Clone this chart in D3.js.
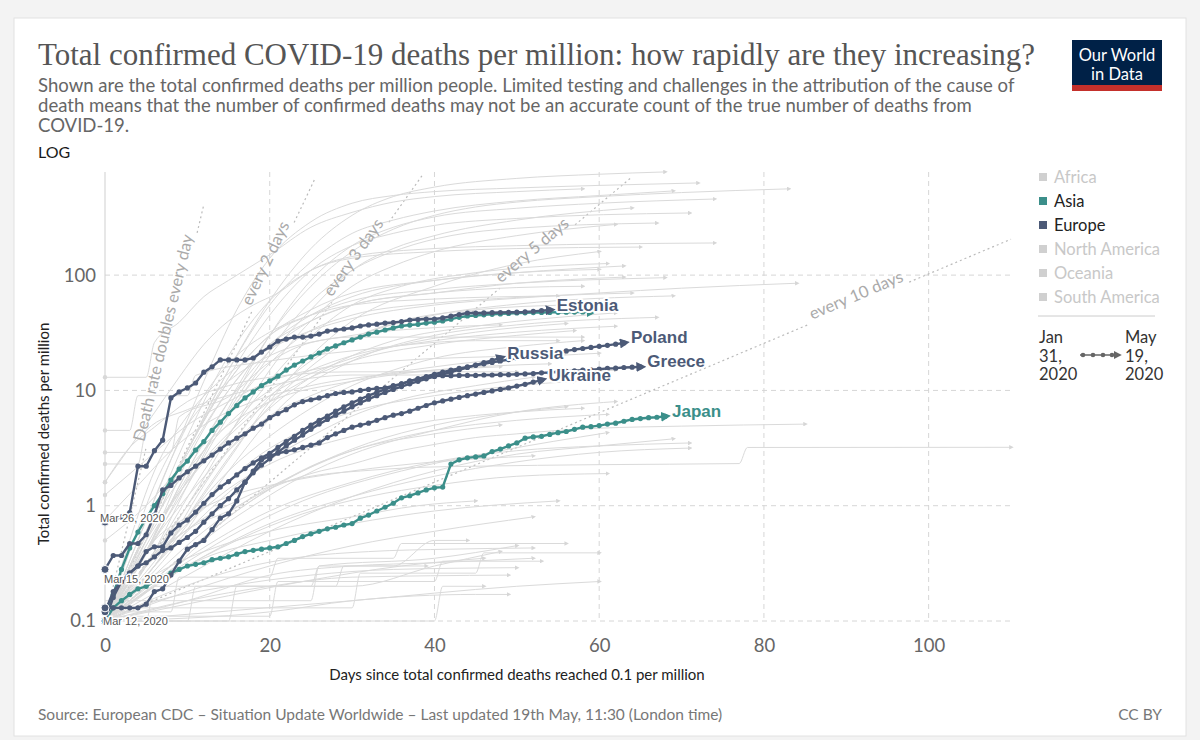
<!DOCTYPE html>
<html><head><meta charset="utf-8">
<script src="https://cdn.jsdelivr.net/npm/d3@7"></script>
<style>
body{margin:0;background:#f3f3f3;}
svg{display:block;font-family:Lato,"Noto Sans",sans-serif;}
</style></head><body>
<svg id="c" width="1200" height="740"></svg>
<script>
// ---------------- DATA ----------------
const xTicks = [0, 20, 40, 60, 80, 100];
const yTicks = [0.1, 1, 10, 100];
const yTickLabels = ["0.1", "1", "10", "100"];
const legendContinents = ["Africa", "Asia", "Europe", "North America", "Oceania", "South America"];
const activeContinents = ["Asia", "Europe"];
const doublingDays = [1, 2, 3, 5, 10];
const doublingLabels = ["Death rate doubles every day", "every 2 days", "every 3 days", "every 5 days", "every 10 days"];
const doublingEnds = [12, 25.5, 38.5, 64, 110];
const doublingLabelCenters = [8.1, 20.4, 31, 52.5, 91.6];

// highlighted countries: daily values, day 0 = first day >= 0.1 deaths per million
const estonia = [0.72,0.75,0.8,0.87,2.2,2.2,3.0,3.7,8.6,9.7,10.5,11.6,14.4,16.0,18.4,18.4,18.4,18.4,19.1,21.5,23.8,26.8,27.9,29.0,29.0,29.6,30.8,32.7,33.4,34.1,34.8,36.2,37.0,37.5,38.4,38.8,39.5,40.8,41.2,41.6,41.6,42.5,44.0,45.5,46.9,46.9,47.0,47.2,47.4,47.6,47.7,48.0,48.5,49.2,49.8];
const turkey = [0.1,0.17,0.28,0.43,0.59,0.78,1.0,1.27,1.67,2.08,2.44,3.04,3.6,4.5,5.3,6.3,7.4,8.6,9.7,11.0,12.1,13.3,15.0,16.6,18.0,19.5,21.1,22.9,24.3,25.9,27.4,29.0,30.8,32.0,33.4,34.8,36.2,36.9,37.4,38.4,39.1,40.0,41.5,43.0,44.2,44.7,45.2,45.7,46.1,46.5,46.9,47.1,47.3,47.4,47.5,47.6,47.7,47.8,47.9,48.0];
const japan = [0.1,0.13,0.15,0.17,0.19,0.2,0.22,0.24,0.26,0.28,0.3,0.31,0.32,0.34,0.35,0.36,0.38,0.4,0.41,0.42,0.43,0.44,0.47,0.5,0.54,0.57,0.6,0.63,0.65,0.68,0.7,0.78,0.83,0.9,0.97,1.05,1.17,1.22,1.29,1.37,1.43,1.45,2.3,2.5,2.6,2.65,2.7,2.95,3.1,3.3,3.5,3.85,3.95,4.0,4.15,4.3,4.4,4.6,4.8,4.85,4.95,5.1,5.2,5.4,5.6,5.7,5.8,5.85,5.95];
const greece = [0.28,0.37,0.37,0.47,0.47,0.56,0.83,1.37,1.5,1.74,1.97,2.2,2.45,2.75,3.1,3.5,3.85,4.2,4.7,5.1,5.8,6.3,6.8,7.5,8.0,8.3,8.6,9.0,9.4,9.6,9.7,10.0,10.2,10.4,10.5,11.0,11.4,12.1,12.6,13.0,13.3,13.4,13.4,13.5,13.5,13.5,13.6,13.6,13.7,13.7,13.8,13.9,14.0,14.2,14.3,14.5,14.6,14.8,15.0,15.1,15.3,15.5,15.6,15.8,15.9,16.0];
const russia = [0.1,0.16,0.22,0.26,0.3,0.32,0.36,0.41,0.43,0.48,0.53,0.6,0.72,0.85,1.0,1.15,1.37,1.6,1.93,2.25,2.55,2.9,3.3,3.7,4.1,4.6,5.1,5.6,6.1,6.6,7.2,7.8,8.4,9.0,9.6,10.2,10.8,11.4,12.0,12.6,13.2,13.8,14.4,15.1,15.8,16.6,17.4,18.2,19.1];
const poland = [0.12,0.18,0.22,0.26,0.3,0.4,0.44,0.44,0.58,0.68,0.75,0.88,1.05,1.25,1.45,1.62,1.85,2.1,2.35,2.6,2.85,3.2,3.6,4.0,4.5,5.0,5.5,6.0,6.6,7.2,7.8,8.4,9.0,9.6,10.2,10.8,11.4,12.0,12.6,13.2,13.8,14.4,15.0,15.5,16.0,16.5,17.0,17.5,18.0,18.5,19.0,19.5,20.0,20.5,21.0,21.5,22.0,22.6,23.1,23.6,24.1,24.6,25.2,25.8];
const ukraine = [0.13,0.13,0.13,0.13,0.13,0.14,0.18,0.19,0.25,0.33,0.42,0.46,0.5,0.62,0.78,0.85,1.1,1.6,2.0,2.5,2.7,2.85,2.95,3.05,3.2,3.35,3.5,3.9,4.2,4.5,4.8,5.0,5.2,5.5,5.8,6.1,6.3,6.6,7.0,7.4,7.8,8.1,8.4,8.7,9.0,9.3,9.6,9.9,10.2,10.5,10.9,11.3,11.8,12.3];

const highlightNames = ["Turkey", "Japan", "Greece", "Russia", "Poland", "Ukraine", "Estonia"];
const highlightContinents = ["Asia", "Asia", "Europe", "Europe", "Europe", "Europe", "Europe"];
const highlightSeries = [turkey, japan, greece, russia, poland, ukraine, estonia];
const highlightLabelled = [false, true, true, true, true, true, true];
const startDateLabels = ["Mar 26, 2020", "Mar 15, 2020", "Mar 12, 2020"];
const startDateCountries = ["Estonia", "Greece", "Japan"];

// other countries (grey), read as [day, deaths per million]
const otherCountries = [
 [[0,0.1],[5,0.6],[10,3],[15,15],[20,60],[25,170],[30,330],[35,480],[40,580],[50,690],[60,750],[68,785]],
 [[0,0.1],[4,0.5],[8,2.5],[12,12],[16,50],[20,140],[25,290],[30,420],[35,490],[40,530],[50,570],[60,600],[72,630]],
 [[0,0.1],[5,0.4],[10,2],[15,8],[20,30],[25,80],[30,160],[35,250],[40,330],[45,390],[50,430],[60,480],[70,520],[83,560]],
 [[0,0.1],[5,0.5],[10,3],[15,15],[20,55],[25,130],[30,230],[35,300],[40,360],[50,440],[60,490],[69,537]],
 [[0,0.1],[5,0.3],[10,1.5],[15,7],[20,30],[25,90],[30,180],[35,260],[40,320],[50,380],[60,420],[74,457]],
 [[0,0.1],[5,0.4],[10,1.5],[15,6],[20,20],[25,50],[30,110],[35,170],[40,220],[50,300],[64,382]],
 [[0,0.1],[5,0.5],[10,3],[15,13],[20,45],[25,110],[30,180],[35,230],[40,270],[50,310],[71,346]],
 [[0,0.1],[6,0.6],[12,3],[18,14],[24,50],[30,110],[36,170],[42,220],[50,255],[67,283]],
 [[0,0.1],[5,0.6],[10,4],[15,20],[20,60],[25,110],[30,145],[40,170],[50,180],[74,190]],
 [[0,0.1],[5,0.3],[10,1],[15,4],[20,15],[25,40],[30,80],[35,120],[40,160],[50,220],[62,275]],
 [[0,0.1],[8,0.5],[15,2.5],[20,8],[25,20],[30,40],[40,80],[50,125],[60,160]],
 [[0,0.1],[5,0.6],[10,3],[15,12],[20,30],[25,50],[30,70],[40,90],[50,105],[63,120]],
 [[0,0.1],[6,0.4],[12,2],[18,8],[24,25],[30,55],[36,80],[45,105],[61,126]],
 [[0,0.1],[3,0.5],[6,2],[10,6],[15,14],[20,23],[25,33],[30,42],[40,55],[50,63],[60,70],[70,77],[84,85]],
 [[0,0.1],[5,0.6],[10,3],[15,12],[20,30],[25,45],[30,60],[40,75],[50,85],[68,95]],
 [[0,0.1],[5,0.4],[10,2.5],[15,10],[20,25],[25,40],[30,55],[40,70],[50,85],[63,96]],
 [[0,0.1],[6,0.5],[12,3],[18,12],[24,30],[30,45],[40,57],[50,64],[64,70]],
 [[0,0.1],[6,0.3],[12,1.5],[18,6],[24,16],[30,28],[40,45],[50,56],[69,66]],
 [[0,0.1],[8,0.4],[15,2],[22,8],[30,18],[40,30],[50,37],[67,43]],
 [[0,1.6],[3,3.2],[6,6.4],[9,13],[12,25],[15,40],[18,55],[21,70],[25,110],[30,140],[40,160],[50,170],[65,175]],
 [[0,13],[5,13],[6,26],[9,39],[12,65],[15,90],[20,150],[25,260],[30,350],[35,430],[40,480],[50,530],[58,560]],
 [[0,0.1],[5,0.4],[10,2],[15,8],[20,22],[25,40],[30,55],[40,70],[50,78],[58,80]],
 [[0,0.1],[4,0.5],[8,2.5],[12,9],[16,20],[20,32],[25,45],[30,55],[40,62],[55,66]],
 [[0,0.1],[6,0.3],[12,1.3],[18,5],[24,14],[30,28],[36,40],[45,50],[56,55]],
 [[0,0.1],[5,0.3],[10,1],[15,3],[20,7],[25,13],[30,20],[35,27],[45,36],[55,43],[62,47]],
 [[0,0.1],[3,0.4],[6,1.5],[10,5],[15,12],[20,20],[30,30],[40,35],[48,37]],
 [[0,0.1],[5,0.6],[10,2.8],[15,10],[20,25],[25,45],[30,65],[40,90],[50,105],[60,112]],
 [[0,4.5],[3,4.5],[4,9],[10,9],[11,13.5],[20,18],[30,22],[45,27],[55,27]],
 [[0,2.9],[8,2.9],[9,5.9],[15,8.8],[20,17.6],[25,26],[30,29],[40,29],[58,29]],
 [[0,2.3],[4,2.3],[5,4.5],[10,6.8],[20,11],[30,13.6],[45,13.6],[62,15]],
 [[0,1.6],[3,3.2],[6,4.8],[10,8],[15,11],[20,13],[30,14.5],[50,14.5]],
 [[0,1.24],[5,2.5],[10,5],[15,8],[20,12],[25,15],[35,18],[50,20],[56,21]],
 [[0,0.75],[4,1.5],[8,3],[12,5],[18,8],[25,11],[35,14],[48,16]],
 [[0,0.5],[5,1],[10,2.5],[15,5],[20,8],[30,12],[40,15],[54,17]],
 [[0,0.1],[5,0.3],[10,0.8],[15,2],[20,4],[25,7],[30,11],[35,15],[40,19],[50,24],[58,27]],
 [[0,0.1],[5,0.4],[10,1.2],[15,3],[20,6],[25,9],[30,12],[40,16],[50,19],[60,21]],
 [[0,0.1],[6,0.3],[12,1],[18,2.5],[24,4.5],[30,6.5],[40,9],[50,11],[57,12]],
 [[0,0.1],[4,0.3],[8,1],[12,2.5],[16,5],[20,9],[25,14],[30,19],[35,24],[45,32],[56,38]],
 [[0,0.1],[5,0.25],[10,0.6],[15,1.3],[20,2.5],[25,4],[30,6],[35,8],[45,11],[52,13]],
 [[0,0.1],[6,0.2],[12,0.5],[18,1],[24,1.8],[30,2.8],[40,4.5],[50,6.5],[62,8]],
 [[0,0.1],[5,0.2],[10,0.4],[15,0.8],[20,1.4],[25,2.2],[30,3],[40,4.5],[50,5.5],[61,6.2]],
 [[0,0.1],[8,0.3],[16,0.9],[24,2],[32,3.5],[40,5],[50,6.5],[56,7.2]],
 [[0,0.1],[5,0.3],[10,0.7],[15,1.4],[20,2.3],[30,4],[40,5.5],[50,6.5],[58,7]],
 [[0,0.1],[5,0.5],[10,1.6],[15,4],[20,8],[25,13],[30,18],[40,25],[50,30],[57,33]],
 [[0,0.1],[4,0.4],[8,1.3],[12,3],[16,6],[20,10],[25,15],[30,20],[40,27],[50,32],[62,36]],
 [[0,0.1],[6,0.25],[12,0.6],[18,1.2],[24,2],[30,3],[40,4.2],[48,5]],
 [[0,0.1],[10,0.25],[20,0.6],[30,1.2],[40,2],[50,2.8],[60,3.3],[69,3.8]],
 [[0,0.1],[10,0.35],[20,0.9],[30,1.6],[40,2.4],[50,3.0],[60,3.3],[71,3.5]],
 [[0,0.1],[12,0.4],[24,1.1],[36,2],[48,3],[61,4.3]],
 [[0,0.1],[8,0.25],[16,0.5],[24,0.85],[32,1.2],[40,1.5],[50,1.8],[61,1.9]],
 [[0,0.1],[10,0.3],[20,0.7],[30,1.2],[40,1.8],[50,2.4],[60,2.9],[71,3.16]],
 [[0,0.12],[5,0.3],[11,0.7],[16,1.1],[21,1.55],[26,1.85],[31,2.0],[38,2.15],[45,2.2],[60,2.27],[77,2.32],[78,3.2],[110,3.21]],
 [[0,0.1],[5,0.31],[10,0.62],[15,0.9],[20,1.4],[25,1.9],[30,2.3],[35,2.9],[40,3.4],[45,3.9],[50,4.2],[55,4.5],[60,4.7],[70,4.9],[85,5.1]],
 [[0,0.1],[10,0.1],[11,0.2],[25,0.2],[26,0.3],[40,0.35],[50,0.45]],
 [[0,0.1],[20,0.12],[30,0.15],[45,0.17],[49,0.17]],
 [[0,0.1],[5,0.14],[15,0.2],[25,0.25],[35,0.28],[50,0.29]],
 [[0,0.12],[8,0.12],[9,0.24],[20,0.24],[21,0.35],[35,0.35],[36,0.47],[56,0.47]],
 [[0,0.1],[10,0.18],[20,0.3],[30,0.45],[40,0.6],[52,0.8]],
 [[0,0.1],[12,0.15],[24,0.22],[36,0.3],[46,0.35]],
 [[0,0.13],[30,0.13],[31,0.26],[45,0.26],[46,0.39],[60,0.39]],
 [[0,0.1],[15,0.1],[16,0.2],[30,0.2],[40,0.3],[48,0.4]],
 [[0,0.1],[6,0.2],[12,0.35],[20,0.5],[30,0.7],[40,0.9],[55,1.1]],
 [[0,0.1],[10,0.15],[20,0.25],[30,0.3],[40,0.32],[52,0.35]],
 [[0,0.1],[5,0.1],[6,0.2],[28,0.2],[29,0.3],[35,0.3],[40,0.5],[44,0.5]],
 [[0,0.1],[30,0.15],[50,0.2],[60,0.22]],
 [[0,0.11],[20,0.11],[21,0.22],[40,0.22],[41,0.33],[53,0.33]],
 [[0,0.1],[10,0.15],[20,0.2],[30,0.24],[49,0.25]],
 [[0,0.1],[8,0.18],[16,0.28],[24,0.36],[32,0.4],[42,0.42],[52,0.43]],
 [[0,0.1],[4,0.2],[8,0.3],[14,0.45],[20,0.6],[30,0.8],[38,1.0],[45,1.1]],
 [[0,0.1],[3,0.25],[6,0.5],[10,0.8],[15,1.2],[20,1.5],[30,2],[40,2.4],[52,2.7]],
 [[0,0.1],[40,0.1],[41,0.2],[46,0.2]],
 [[0,0.15],[25,0.15],[26,0.3],[39,0.3]]
];

// ---------------- DRAWING ----------------
const colors = {Asia: "#3b8f8a", Europe: "#4c5a77"};
const svg = d3.select("#c");
svg.append("rect").attr("width", 1200).attr("height", 740).attr("fill", "#f3f3f3");
svg.append("rect").attr("x", 14).attr("y", 18).attr("width", 1172).attr("height", 718)
  .attr("fill", "#fff").attr("stroke", "#e2e2e2");

const x = d3.scaleLinear().domain([0, 110]).range([105, 1011]);
const y = d3.scaleLog().domain([0.1, 784]).range([621, 172]);

const defs = svg.append("defs");
defs.append("clipPath").attr("id", "plotclip").append("rect")
  .attr("x", x(0) - 6).attr("y", y(784) - 2).attr("width", x(110) - x(0) + 14).attr("height", y(0.1) - y(784) + 8);
function marker(id, color, size, refX) {
  defs.append("marker").attr("id", id).attr("viewBox", "0 0 10 10").attr("refX", refX).attr("refY", 5)
    .attr("markerWidth", size).attr("markerHeight", size).attr("markerUnits", "userSpaceOnUse")
    .attr("orient", "auto").append("path").attr("d", "M0,0L10,5L0,10z").attr("fill", color);
}
marker("arrGrey", "#d6d6d6", 4.5, 4);
marker("arrAsia", colors.Asia, 10, 4);
marker("arrEurope", colors.Europe, 10, 4);
marker("arrLegend", "#666", 8, 4);

// Title block
svg.append("text").attr("x", 38).attr("y", 65).attr("font-family", "'Liberation Serif','DejaVu Serif',serif")
  .attr("font-size", 31).attr("fill", "#555").attr("textLength", 997).attr("lengthAdjust", "spacingAndGlyphs")
  .text("Total confirmed COVID-19 deaths per million: how rapidly are they increasing?");
const subLines = ["Shown are the total confirmed deaths per million people. Limited testing and challenges in the attribution of the cause of",
  "death means that the number of confirmed deaths may not be an accurate count of the true number of deaths from",
  "COVID-19."];
const sub = svg.append("g").attr("fill", "#666");
const s0 = sub.append("text").attr("x", 38).attr("y", 92).attr("font-size", 17).text(subLines[0]);
const subSize = 17 * 977 / s0.node().getComputedTextLength();
s0.attr("font-size", subSize);
subLines.slice(1).forEach((t, i) => sub.append("text").attr("x", 38).attr("y", 112 + i * 20).attr("font-size", subSize).text(t));
svg.append("text").attr("x", 38).attr("y", 158).attr("font-size", 16).attr("fill", "#1a1a1a").text("LOG");

// logo
const logo = svg.append("g");
logo.append("rect").attr("x", 1072).attr("y", 40).attr("width", 90).attr("height", 51).attr("fill", "#002147");
logo.append("rect").attr("x", 1072).attr("y", 85).attr("width", 90).attr("height", 6).attr("fill", "#c4302b");
logo.append("text").attr("x", 1117).attr("y", 61).attr("text-anchor", "middle").attr("fill", "#fff").attr("font-size", 16.5).text("Our World");
logo.append("text").attr("x", 1117).attr("y", 80).attr("text-anchor", "middle").attr("fill", "#fff").attr("font-size", 16.5).text("in Data");

// Grid
const grid = svg.append("g");
grid.selectAll(".vg").data(xTicks.filter(d => d > 0)).join("line")
  .attr("x1", d => x(d)).attr("x2", d => x(d)).attr("y1", y(784)).attr("y2", y(0.1))
  .attr("stroke", "#d6d6d6").attr("stroke-dasharray", "5,4");
grid.selectAll(".hg").data(yTicks).join("line")
  .attr("x1", x(0)).attr("x2", x(110)).attr("y1", d => y(d)).attr("y2", d => y(d))
  .attr("stroke", "#d6d6d6").attr("stroke-dasharray", "5,4");
grid.append("line").attr("x1", x(0)).attr("x2", x(0)).attr("y1", y(784)).attr("y2", y(0.1)).attr("stroke", "#cfcfcf");

// Axes
const xAxis = svg.append("g").attr("transform", `translate(0,${y(0.1)})`)
  .call(d3.axisBottom(x).tickValues(xTicks).tickSize(0).tickPadding(18));
xAxis.select(".domain").remove();
xAxis.selectAll("text").attr("font-size", 18.5).attr("fill", "#666").attr("font-family", "Lato");
const yAxis = svg.append("g").attr("transform", `translate(${x(0)},0)`)
  .call(d3.axisLeft(y).tickValues(yTicks).tickFormat((d, i) => yTickLabels[i]).tickSize(0).tickPadding(9));
yAxis.select(".domain").remove();
yAxis.selectAll("text").attr("font-size", 18.5).attr("fill", "#666").attr("font-family", "Lato");

svg.append("text").attr("x", 517).attr("y", 680).attr("text-anchor", "middle").attr("font-size", 15).attr("fill", "#222")
  .text("Days since total confirmed deaths reached 0.1 per million");
svg.append("text").attr("transform", "translate(49,434) rotate(-90)").attr("text-anchor", "middle").attr("font-size", 15).attr("fill", "#222")
  .text("Total confirmed deaths per million");

// Doubling lines
const plot = svg.append("g").attr("clip-path", "url(#plotclip)");
const dblG = plot.append("g");
const dblLabelG = svg.append("g");
const greyG = plot.append("g");
doublingDays.forEach((n, i) => {
  const f = d => 0.1 * Math.pow(2, d / n);
  const end = doublingEnds[i], c = doublingLabelCenters[i];
  const ang = Math.atan2(y(f(1)) - y(f(0)), x(1) - x(0));
  const pxPerDay = Math.hypot(x(1) - x(0), y(f(1)) - y(f(0)));
  const t = dblLabelG.append("text")
    .attr("transform", `translate(${x(c)},${y(f(c))}) rotate(${ang * 180 / Math.PI})`)
    .attr("text-anchor", "middle").attr("dy", -3).attr("font-size", 16.5).attr("fill", "#aaa").text(doublingLabels[i]);
  const half = (t.node().getComputedTextLength() / 2 + 4) / pxPerDay;
  [[0, c - half], [c + half, end]].forEach(([a, b]) => {
    if (b <= a) return;
    dblG.append("line").attr("x1", x(a)).attr("y1", y(f(a))).attr("x2", x(b)).attr("y2", y(f(b)))
      .attr("stroke", "#bbb").attr("stroke-width", 1.2).attr("stroke-dasharray", "2,3");
  });
});

// Grey lines
const greyLine = d3.line().x(d => x(d[0])).y(d => y(d[1])).curve(d3.curveMonotoneX);
greyG.selectAll("path").data(otherCountries).join("path")
  .attr("d", greyLine).attr("fill", "none").attr("stroke", "#dadada").attr("stroke-width", 1)
  .attr("marker-end", "url(#arrGrey)");
greyG.selectAll("circle").data(otherCountries.filter(d => d[0][1] > 0.3)).join("circle")
  .attr("cx", d => x(d[0][0])).attr("cy", d => y(d[0][1])).attr("r", 2.2).attr("fill", "#d8d8d8");
svg.node().appendChild(dblLabelG.node());

// Highlighted lines
const hlG = svg.append("g");
const hlLine = d3.line().x(d => x(d[0])).y(d => y(d[1]));
const lastPts = {};
highlightSeries.forEach((vals, i) => {
  const cont = highlightContinents[i], col = colors[cont];
  const pts = vals.map((v, d) => [d, v]);
  lastPts[highlightNames[i]] = pts;
  const g = hlG.append("g");
  g.append("path").attr("d", hlLine(pts)).attr("fill", "none").attr("stroke", col).attr("stroke-width", 2.4)
    .attr("stroke-linejoin", "round").attr("marker-end", `url(#arr${cont})`);
  g.selectAll("circle").data(pts).join("circle").attr("cx", d => x(d[0])).attr("cy", d => y(d[1])).attr("r", 2.6).attr("fill", col);
  g.append("circle").attr("cx", x(pts[0][0])).attr("cy", y(pts[0][1])).attr("r", 4).attr("fill", col).attr("stroke", "#fff").attr("stroke-width", 1);
});
// labels
highlightSeries.forEach((vals, i) => {
  if (!highlightLabelled[i]) return;
  const last = vals.length - 1;
  hlG.append("text").attr("x", x(last) + 7).attr("y", y(vals[last]) + 0.5)
    .attr("font-family", "'Liberation Sans',Arial,sans-serif").attr("font-weight", "bold").attr("font-size", 17)
    .attr("fill", colors[highlightContinents[i]]).attr("stroke", "#fff").attr("stroke-width", 4)
    .attr("paint-order", "stroke").attr("stroke-linejoin", "round").text(highlightNames[i]);
});
// start date labels
const startOffsets = [[-5, 0], [-1, 14], [-2, 4]];
startDateLabels.forEach((t, i) => {
  const p = lastPts[startDateCountries[i]][0];
  svg.append("text").attr("x", x(p[0]) + startOffsets[i][0]).attr("y", y(p[1]) + startOffsets[i][1])
    .attr("font-family", "'Liberation Sans',Arial,sans-serif").attr("font-size", 11).attr("fill", "#555")
    .attr("stroke", "#fff").attr("stroke-width", 3).attr("paint-order", "stroke").text(t);
});

// Legend
const leg = svg.append("g");
legendContinents.forEach((c, i) => {
  const on = activeContinents.includes(c);
  const yy = 177 + i * 24;
  leg.append("rect").attr("x", 1039).attr("y", yy - 4).attr("width", 8).attr("height", 8).attr("fill", on ? colors[c] : "#d0d0d0");
  leg.append("text").attr("x", 1054).attr("y", yy + 6).attr("font-size", 16.5).attr("fill", on ? "#222" : "#c8c8c8").text(c);
});
leg.append("line").attr("x1", 1038).attr("x2", 1155).attr("y1", 316).attr("y2", 316).attr("stroke", "#ccc");
["Jan", "31,", "2020"].forEach((t, i) => leg.append("text").attr("x", 1039).attr("y", 343 + i * 18.5).attr("font-size", 16.5).attr("fill", "#333").text(t));
["May", "19,", "2020"].forEach((t, i) => leg.append("text").attr("x", 1125).attr("y", 343 + i * 18.5).attr("font-size", 16.5).attr("fill", "#333").text(t));
leg.append("line").attr("x1", 1080).attr("x2", 1117).attr("y1", 355).attr("y2", 355).attr("stroke", "#666").attr("stroke-width", 1.5).attr("marker-end", "url(#arrLegend)");
[1083, 1093, 1103, 1112].forEach(cx => leg.append("circle").attr("cx", cx).attr("cy", 355).attr("r", 2.3).attr("fill", "#666"));

// Footer
svg.append("text").attr("x", 38).attr("y", 720).attr("font-size", 15.5).attr("fill", "#777")
  .text("Source: European CDC – Situation Update Worldwide – Last updated 19th May, 11:30 (London time)");
svg.append("text").attr("x", 1162).attr("y", 720).attr("text-anchor", "end").attr("font-size", 15.5).attr("fill", "#777").text("CC BY");
</script>
</body></html>
